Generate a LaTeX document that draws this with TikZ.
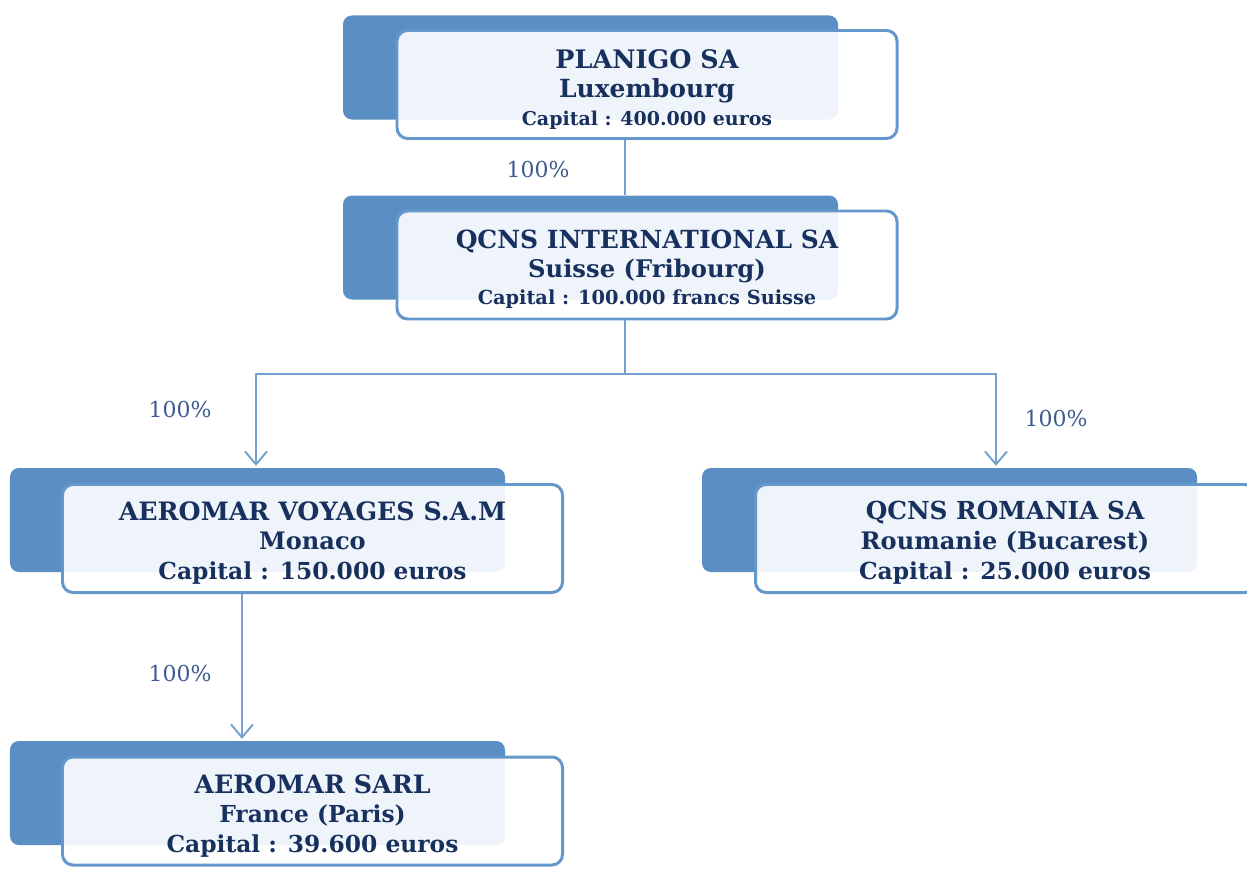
\documentclass[tikz,border=0pt]{standalone}
\usepackage{fontspec}
\setmainfont{DejaVu Serif}
\usetikzlibrary{arrows.meta,positioning,calc}
\definecolor{backblue}{HTML}{5B8FC4}
\definecolor{edgeblue}{HTML}{6497CB}
\definecolor{linkblue}{HTML}{75A0D0}
\definecolor{navy}{HTML}{17305E}
\definecolor{pcblue}{HTML}{3C5A8E}
\newcommand{\fsz}[1]{\fontsize{#1}{17}\selectfont}
\begin{document}
\begin{tikzpicture}[
    backbox/.style={rectangle, rounded corners=5pt, fill=backblue, minimum width=9.9cm, minimum height=2.08cm, inner sep=0pt},
    frontbox/.style={rectangle, rounded corners=6pt, draw=edgeblue, line width=1.7pt, fill=white, fill opacity=0.9, minimum width=10cm, minimum height=2.16cm, inner sep=0pt},
    firm/.style={align=center, text=navy, font=\bfseries\fontsize{14.2}{16.5}\selectfont, inner sep=0pt},
    firmb/.style={align=center, text=navy, font=\bfseries\fontsize{13.3}{17}\selectfont, inner sep=0pt},
    link/.style={draw=linkblue, line width=1.1pt},
    pct/.style={text=pcblue, font=\fontsize{12.5}{14}\selectfont, inner sep=0pt},
    tip/.style={-{Straight Barb[length=2.6mm,width=4.4mm,line width=1.1pt]}}
  ]
  \useasboundingbox (0,0) rectangle (24.94,-17.64);

  \node[backbox] (planigoback) at (11.81,-1.35) {};
  \node[frontbox] (planigo) at (12.94,-1.69) {};
  \node[firm] (planigotxt) at ([yshift=-0.1cm]planigo.center) {{\fontsize{14.5}{16.5}\selectfont PLANIGO SA}\\Luxembourg\\[-1pt]{\fontsize{10.8}{12}\selectfont Capital : 400.000 euros}};

  \node[backbox] (qcnsback) at (11.81,-4.95) {};
  \node[frontbox] (qcns) at (12.94,-5.30) {};
  \node[firm] (qcnstxt) at ([yshift=-0.08cm]qcns.center) {QCNS INTERNATIONAL SA\\{\fontsize{13.8}{16.5}\selectfont Suisse (Fribourg)}\\[-1pt]{\fontsize{11}{12}\selectfont Capital : 100.000 francs Suisse}};

  \node[backbox] (voyagesback) at (5.15,-10.40) {};
  \node[frontbox] (voyages) at (6.25,-10.77) {};
  \node[firmb] (voyagestxt) at ([yshift=-0.09cm]voyages.center) {{\fsz{14.4}AEROMAR VOYAGES S.A.M}\\{\fsz{13.7}Monaco}\\Capital : 150.000 euros};

  \node[backbox] (romaniaback) at (18.99,-10.40) {};
  \node[frontbox] (romania) at (20.11,-10.77) {};
  \node[firmb] (romaniatxt) at (20.1,-10.86) {{\fsz{14.1}QCNS ROMANIA SA}\\{\fsz{13.7}Roumanie (Bucarest)}\\Capital : 25.000 euros};

  \node[backbox] (sarlback) at (5.15,-15.86) {};
  \node[frontbox] (sarl) at (6.25,-16.22) {};
  \node[firmb] (sarltxt) at ([yshift=-0.1cm]sarl.center) {{\fsz{14.4}AEROMAR SARL}\\France (Paris)\\Capital : 39.600 euros};

  \coordinate (fork) at (12.5,-7.48);
  \draw[link] (12.5,0 |- planigo.south) -- (12.5,0 |- qcnsback.north);
  \draw[link] (12.5,0 |- qcns.south) -- (fork);
  \draw[link,tip] (fork) -| ([yshift=1pt]5.12,0 |- voyagesback.north);
  \draw[link,tip] (fork) -| ([yshift=1pt]19.92,0 |- romaniaback.north);
  \draw[link,tip] (4.84,0 |- voyages.south) -- ([yshift=1pt]4.84,0 |- sarlback.north);

  \node[pct] (pctplanigo) at (10.76,-3.4) {100\%};
  \node[pct] (pctvoyages) at (3.6,-8.2) {100\%};
  \node[pct] (pctromania) at (21.12,-8.36) {100\%};
  \node[pct] (pctsarl) at (3.6,-13.46) {100\%};
\end{tikzpicture}
\end{document}
